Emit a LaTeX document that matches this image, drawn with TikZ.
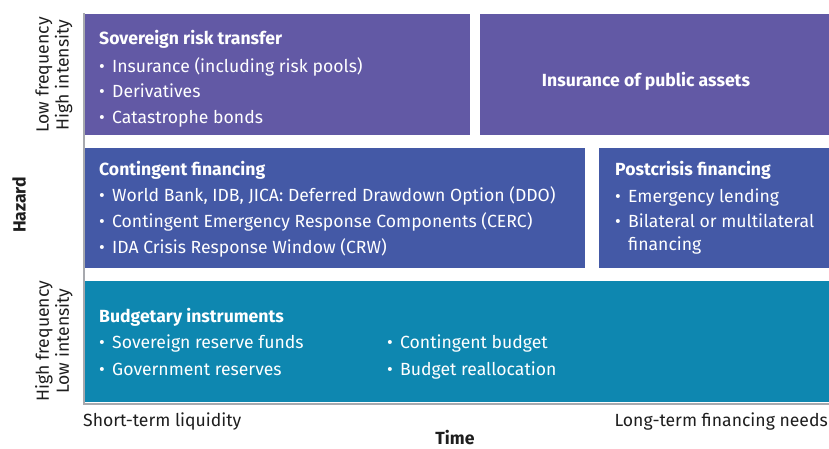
\documentclass[tikz,border=0pt]{standalone}
\usepackage{fontspec}
\setmainfont{Fira Sans}
\definecolor{purp}{HTML}{6259A5}
\definecolor{bluebox}{HTML}{4459A6}
\definecolor{teal}{HTML}{0E87B0}
\definecolor{axisgrey}{HTML}{A7A9AE}
\definecolor{txtdark}{HTML}{1E1E1E}
\newcommand{\bul}{\makebox[13pt][l]{\textbullet}}
\newcommand{\fs}{\fontsize{17.6}{20}\selectfont}
\begin{document}
\begin{tikzpicture}[x=1pt,y=-1pt,
  box/.style={draw=none, anchor=north west, inner sep=0pt, outer sep=0pt},
  ttl/.style={anchor=base west, inner sep=0pt, text=white, font=\fs\bfseries},
  itm/.style={anchor=base west, inner sep=0pt, text=white, font=\fs},
  axlbl/.style={inner sep=0pt, text=txtdark, font=\fs},
  axisline/.style={draw=axisgrey, line width=2pt}
]
\useasboundingbox (0,0) rectangle (829,448);
\fill[white] (0,0) rectangle (829,448);

% axes
\coordinate (top) at (83.5,13);
\coordinate (corner) at (83.5,404);
\coordinate (right) at (829,404);
\draw[axisline] (top) -- (corner) -- (right);

% boxes
\node[box, fill=purp, minimum width=385pt, minimum height=121pt] (sov) at (84.5,14) {};
\node[box, fill=purp, minimum width=349pt, minimum height=121pt] (ipa) at (480,14) {};
\node[box, fill=bluebox, minimum width=500.5pt, minimum height=120pt] (cont) at (84.5,148) {};
\node[box, fill=bluebox, minimum width=230pt, minimum height=120pt] (post) at (599,148) {};
\node[box, fill=teal, minimum width=744.5pt, minimum height=121pt] (budg) at (84.5,281) {};

% sovereign
\node[ttl] (t1) at (99,44) {Sovereign risk transfer};
\node[itm] (t1a) at (99,72) {\bul Insurance (including risk pools)};
\node[itm] (t1b) at (99,97.5) {\bul Derivatives};
\node[itm] (t1c) at (99,123) {\bul Catastrophe bonds};

% insurance of public assets
\node[ttl, anchor=base] (t2) at (646,86) {Insurance of public assets};

% contingent
\node[ttl] (t3) at (99,175) {Contingent financing};
\node[itm] (t3a) at (99,201) {\bul World Bank, IDB, JICA: Deferred Drawdown Option (DDO)};
\node[itm] (t3b) at (99,227) {\bul Contingent Emergency Response Components (CERC)};
\node[itm] (t3c) at (99,253) {\bul IDA Crisis Response Window (CRW)};

% postcrisis
\node[ttl] (t4) at (615,175) {Postcrisis financing};
\node[itm] (t4a) at (615,202.5) {\bul Emergency lending};
\node[itm] (t4b) at (615,227) {\bul Bilateral or multilateral};
\node[itm] (t4c) at (628,250) {financing};

% budgetary
\node[ttl] (t5) at (99,322) {Budgetary instruments};
\node[itm] (t5a) at (99,348) {\bul Sovereign reserve funds};
\node[itm] (t5b) at (99,375) {\bul Government reserves};
\node[itm] (t5c) at (387,348) {\bul Contingent budget};
\node[itm] (t5d) at (387,375) {\bul Budget reallocation};

% axis labels
\node[axlbl, anchor=base west] (short) at (83,426) {Short-term liquidity};
\node[axlbl, anchor=base east] (long) at (828,426) {Long-term financing needs};
\node[axlbl, anchor=base, font=\fs\bfseries] (time) at (455,444.5) {Time};
\node[axlbl, rotate=90, font=\fs\bfseries] (haz) at (19,205) {Hazard};
\node[axlbl, rotate=90, align=center, font=\fs] (lf) at (54,75) {Low frequency\\High intensity};
\node[axlbl, rotate=90, align=center, font=\fs] (hf) at (54,341) {High frequency\\Low intensity};
\end{tikzpicture}
\end{document}
